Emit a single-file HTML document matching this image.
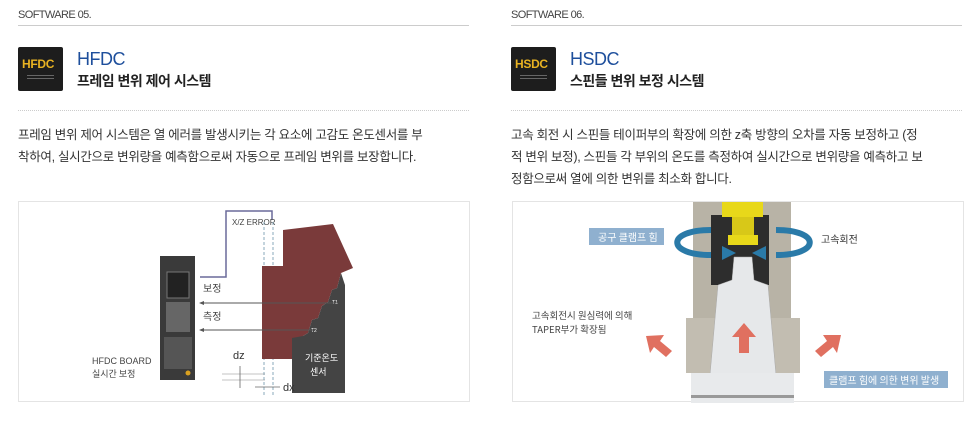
<!DOCTYPE html>
<html><head><meta charset="utf-8"><style>
body{margin:0;width:972px;height:427px;background:#fff;font-family:"Liberation Sans","Noto Sans CJK KR",sans-serif;position:relative;overflow:hidden}
.a{position:absolute;white-space:nowrap}
.sw{font-size:11px;color:#444;letter-spacing:-0.6px;top:9px}
.hl{position:absolute;height:1px;background:#ccc;top:25px}
.dl{position:absolute;border-top:1px dotted #ccc;top:110px}
.icon{position:absolute;width:45px;height:44px;background:#1d1d1d;border-radius:2px;top:47px}
.icon b{position:absolute;left:4px;top:10px;color:#e8b222;font-size:12px;font-weight:bold;letter-spacing:-0.3px}
.icon i{position:absolute;left:9px;top:28px;width:27px;height:1px;background:#666;box-shadow:0 3px 0 #666}
.t1{font-size:18px;color:#1e4f9c;top:49px;letter-spacing:-0.5px}
.t2{font-size:14px;color:#222;font-weight:bold;top:71px;letter-spacing:-0.5px}
.p{font-size:12.5px;color:#333;line-height:22px;top:124px;letter-spacing:-0.3px}
.box{position:absolute;top:201px;height:199px;border:1px solid #e4e4e4}
</style></head><body>
<div class="a sw" style="left:18px">SOFTWARE 05.</div>
<div class="hl" style="left:18px;width:451px"></div>
<div class="icon" style="left:18px"><b>HFDC</b><i></i></div>
<div class="a t1" style="left:77px">HFDC</div>
<div class="a t2" style="left:77px">프레임 변위 제어 시스템</div>
<div class="dl" style="left:18px;width:451px"></div>
<div class="a p" style="left:18px">프레임 변위 제어 시스템은 열 에러를 발생시키는 각 요소에 고감도 온도센서를 부<br>착하여, 실시간으로 변위량을 예측함으로써 자동으로 프레임 변위를 보장합니다.</div>
<div class="box" style="left:18px;width:450px"></div>
<svg class="a" style="left:0;top:0" width="486" height="427">
<polyline points="200,277 226,277 226,211 272,211 272,220" fill="none" stroke="#6a6a9a" stroke-width="1.5"/>
<text x="232" y="225" font-size="8" fill="#444" font-family="Liberation Sans">X/Z ERROR</text>
<line x1="264" y1="222" x2="264" y2="395" stroke="#8ab" stroke-dasharray="3,2"/>
<line x1="273" y1="222" x2="273" y2="395" stroke="#8ab" stroke-dasharray="3,2"/>
<rect x="262" y="266" width="21" height="93" fill="#7a3a3a"/>
<polygon points="283,230 333,224 353,268 341,273 337,288 332,290 328,302 322,306 318,318 312,320 308,333 303,336 298,348 292,352 292,359 283,359" fill="#7a3a3a"/>
<polygon points="292,338 303,336 308,333 312,320 318,318 322,306 328,302 332,290 337,288 341,273 345,285 345,393 292,393" fill="#444"/>
<text x="332" y="304" font-size="5" fill="#fff">T1</text><text x="311" y="332" font-size="5" fill="#fff">T2</text>
<text x="305" y="361" font-size="9" fill="#fff" font-family="Noto Sans CJK KR">기준온도</text>
<text x="310" y="375" font-size="9" fill="#fff" font-family="Noto Sans CJK KR">센서</text>
<line x1="200" y1="303" x2="338" y2="303" stroke="#555"/><polygon points="199,303 204,301 204,305" fill="#555"/>
<line x1="200" y1="330" x2="313" y2="330" stroke="#555"/><polygon points="199,330 204,328 204,332" fill="#555"/>
<text x="203" y="292" font-size="10" fill="#444" font-family="Noto Sans CJK KR">보정</text>
<text x="203" y="320" font-size="10" fill="#444" font-family="Noto Sans CJK KR">측정</text>
<rect x="160" y="256" width="35" height="124" fill="#3a3a3a"/>
<rect x="167" y="272" width="22" height="26" fill="#222" stroke="#777"/>
<rect x="166" y="302" width="24" height="30" fill="#666"/>
<rect x="164" y="337" width="28" height="32" fill="#555"/>
<circle cx="188" cy="373" r="2.5" fill="#d9a020"/>
<text x="92" y="364" font-size="9" fill="#444" font-family="Liberation Sans">HFDC BOARD</text>
<text x="92" y="377" font-size="9" fill="#444" font-family="Noto Sans CJK KR">실시간 보정</text>
<text x="233" y="359" font-size="11" fill="#333">dz</text>
<text x="283" y="391" font-size="11" fill="#333">dx</text>
<line x1="222" y1="374" x2="265" y2="374" stroke="#888" stroke-width=".6"/>
<line x1="222" y1="380" x2="265" y2="380" stroke="#888" stroke-width=".6"/>
<line x1="240" y1="366" x2="240" y2="388" stroke="#666" stroke-width=".8"/>
<line x1="255" y1="387" x2="280" y2="387" stroke="#666" stroke-width=".8"/>
</svg>

<div class="a sw" style="left:511px">SOFTWARE 06.</div>
<div class="hl" style="left:511px;width:451px"></div>
<div class="icon" style="left:511px"><b>HSDC</b><i></i></div>
<div class="a t1" style="left:570px">HSDC</div>
<div class="a t2" style="left:570px">스핀들 변위 보정 시스템</div>
<div class="dl" style="left:511px;width:451px"></div>
<div class="a p" style="left:511px">고속 회전 시 스핀들 테이퍼부의 확장에 의한 z축 방향의 오차를 자동 보정하고 (정<br>적 변위 보정), 스핀들 각 부위의 온도를 측정하여 실시간으로 변위량을 예측하고 보<br>정함으로써 열에 의한 변위를 최소화 합니다.</div>
<div class="box" style="left:512px;width:450px"></div>
<svg class="a" style="left:486px;top:195px" width="486" height="232">
<rect x="207" y="7" width="98" height="175" fill="#b8b3a6"/>
<rect x="200" y="123" width="114" height="55" fill="#c2bdb1"/>
<rect x="225" y="20" width="58" height="70" fill="#2d2d2d"/>
<rect x="236" y="7" width="41" height="15" fill="#e8d81a"/>
<rect x="246" y="22" width="22" height="20" fill="#d8c818"/>
<rect x="242" y="40" width="30" height="10" fill="#e8d81a"/>
<polygon points="248,62 266,62 268,85 282,90 290,180 224,180 232,90 246,85" fill="#e6e8ea" stroke="#aaa" stroke-width=".5"/>
<rect x="205" y="178" width="103" height="30" fill="#e8eaec"/>
<rect x="205" y="200" width="103" height="3" fill="#999"/>
<path d="M225,35 C180,35 180,60 225,60" fill="none" stroke="#2a7aa8" stroke-width="6"/>
<path d="M290,35 C335,35 335,60 290,60" fill="none" stroke="#2a7aa8" stroke-width="6"/>
<polygon points="250,58 236,51 236,65" fill="#2a7aa8"/><polygon points="266,58 280,51 280,65" fill="#2a7aa8"/>
<rect x="103" y="33" width="75" height="17" fill="#8fb0cf"/>
<text x="112" y="46" font-size="10" fill="#fff" font-family="Noto Sans CJK KR">공구 클램프 힘</text>
<text x="335" y="48" font-size="10" fill="#333" font-family="Noto Sans CJK KR">고속회전</text>
<text x="46" y="124" font-size="9.5" fill="#444" font-family="Noto Sans CJK KR">고속회전시 원심력에 의해</text>
<text x="46" y="138" font-size="9.5" fill="#444" font-family="Noto Sans CJK KR">TAPER부가 확장됨</text>
<polygon points="258,128 246,142 253,142 253,158 263,158 263,142 270,142" fill="#e07060"/>
<polygon points="160,141 178,140 174,146 186,156 180,162 168,152 164,158" fill="#e07060"/>
<polygon points="355,140 337,140 341,146 329,156 335,162 347,152 351,158" fill="#e07060"/>
<rect x="338" y="176" width="124" height="17" fill="#8fb0cf"/>
<text x="343" y="189" font-size="10" fill="#fff" font-family="Noto Sans CJK KR">클램프 힘에 의한 변위 발생</text>
</svg>
</body></html>
